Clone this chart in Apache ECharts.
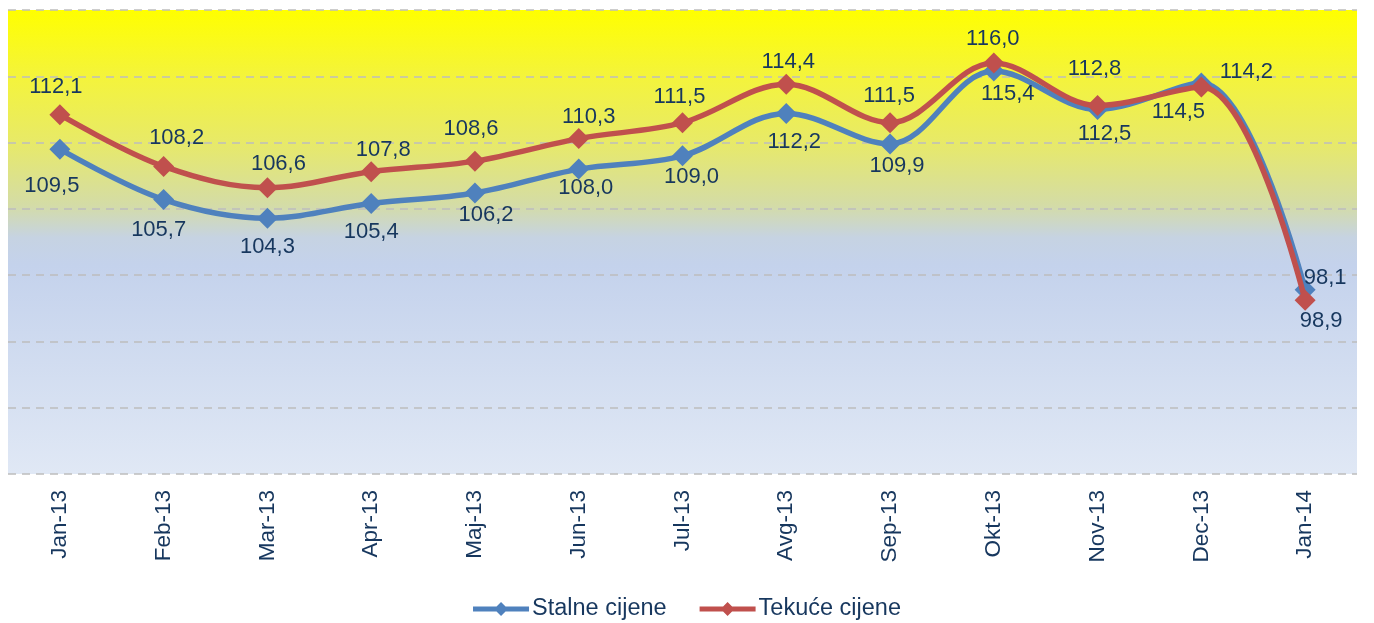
<!DOCTYPE html>
<html><head><meta charset="utf-8">
<script src="https://cdn.jsdelivr.net/npm/echarts@6/dist/echarts.min.js"></script>
<style>html,body{margin:0;padding:0;background:#fff}#c{width:1374px;height:623px}</style>
</head><body><div id="c"></div>
<script>
const categories = ['Jan-13','Feb-13','Mar-13','Apr-13','Maj-13','Jun-13','Jul-13','Avg-13','Sep-13','Okt-13','Nov-13','Dec-13','Jan-14'];
const stalne = [109.5,105.7,104.3,105.4,106.2,108.0,109.0,112.2,109.9,115.4,112.5,114.5,98.9];
const tekuce = [112.1,108.2,106.6,107.8,108.6,110.3,111.5,114.4,111.5,116.0,112.8,114.2,98.1];

// label placement (layout only): offset of label centre from the marker, px
const stalneLabelOffset = [[-8,37],[-5,30],[0,29],[0,28],[11,22],[7,19],[9,21],[8,29],[7,22],[14,23],[7,25],[-23,29],[16,31]];
const tekuceLabelOffset = [[-4,-28],[13,-28],[11,-24],[12,-22],[-4,-32],[10,-22],[-3,-26],[2,-22],[-1,-27],[-1,-24],[-3,-37],[45,-15],[20,-22]];

const txt = '#17375E';
const FONT = 'Liberation Sans, Arial, sans-serif';
const fmt = v => v.toFixed(1).replace('.', ',');
function build(vals, offs) {
  return vals.map((v, i) => ({
    value: v,
    label: { show: true, formatter: fmt(v), position: 'inside', align: 'center', verticalAlign: 'middle',
      offset: offs[i], color: txt, fontSize: 22, fontFamily: FONT }
  }));
}
const legendIcon = 'path://M0,4.5 L23.5,4.5 L28,0 L32.5,4.5 L56,4.5 L56,9.5 L32.5,9.5 L28,14 L23.5,9.5 L0,9.5 Z';

const chart = echarts.init(document.getElementById('c'));
chart.setOption({
  animation: false,
  grid: { left: 8, right: 17, top: 10, bottom: 149, show: true, borderWidth: 0,
    backgroundColor: new echarts.graphic.LinearGradient(0, 0, 0, 1, [
      { offset: 0, color: '#ffff00' },
      { offset: 0.14, color: '#f4f43a' },
      { offset: 0.28, color: '#e8ea66' },
      { offset: 0.42, color: '#d4dca6' },
      { offset: 0.49, color: '#c6d3e2' },
      { offset: 0.55, color: '#c4d2ec' },
      { offset: 1, color: '#e0e8f5' }
    ]) },
  legend: {
    top: 592, left: 'center', itemWidth: 56, itemHeight: 14, itemGap: 33,
    textStyle: { color: txt, fontSize: 23.5, fontFamily: FONT, padding: [0, 0, 0, -2] },
    data: [{ name: 'Stalne cijene', icon: legendIcon }, { name: 'Tekuće cijene', icon: legendIcon }]
  },
  xAxis: {
    type: 'category', data: categories, boundaryGap: true,
    axisLine: { show: false }, axisTick: { show: false },
    axisLabel: { rotate: 90, color: txt, fontSize: 22.5, margin: 16, fontFamily: FONT }
  },
  yAxis: {
    type: 'value', min: 85, max: 120, interval: 5,
    axisLabel: { show: false }, axisLine: { show: false }, axisTick: { show: false },
    splitLine: { show: true, lineStyle: { color: '#bdbdbd', type: [8, 6], width: 1.5 } }
  },
  series: [
    { name: 'Stalne cijene', type: 'line', smooth: 0.35, data: build(stalne, stalneLabelOffset),
      symbol: 'diamond', symbolSize: 21, lineStyle: { width: 5.5, color: '#4F81BD' },
      itemStyle: { color: '#4F81BD' }, z: 2 },
    { name: 'Tekuće cijene', type: 'line', smooth: 0.35, data: build(tekuce, tekuceLabelOffset),
      symbol: 'diamond', symbolSize: 21, lineStyle: { width: 5.5, color: '#C0504D' },
      itemStyle: { color: '#C0504D' }, z: 3 }
  ]
});
</script></body></html>
